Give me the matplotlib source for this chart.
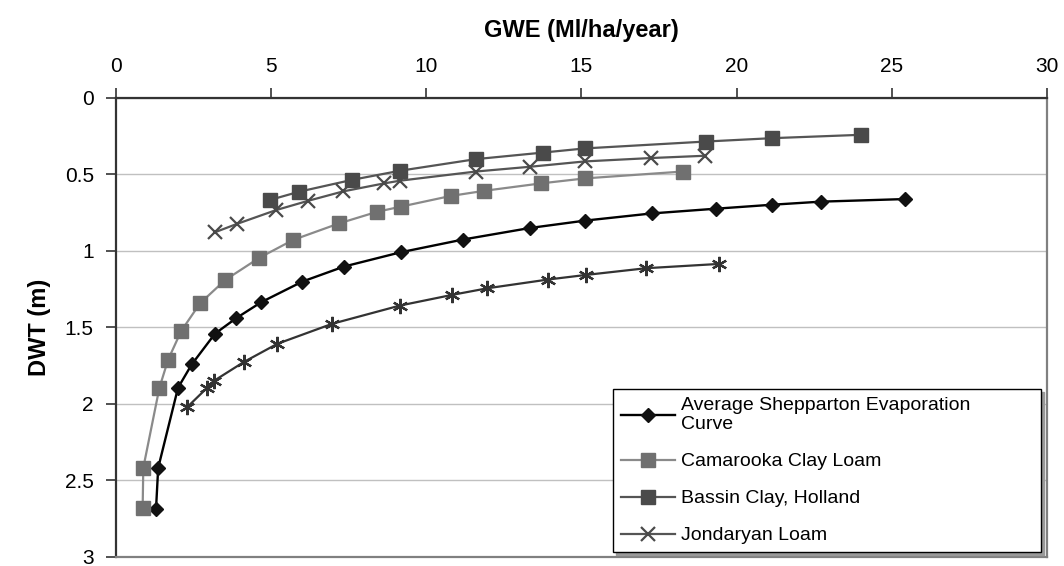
import numpy as np
import matplotlib
matplotlib.use('Agg')
import matplotlib.pyplot as plt

plt.rcParams['font.family'] = ['Liberation Sans', 'DejaVu Sans']

# values: GWE (Ml/ha/year) vs DWT (m)
avg_gwe = [1.29, 1.36, 2.00, 2.44, 3.19, 3.87, 4.68, 6.01, 7.35, 9.17, 11.17,
           13.34, 15.11, 17.26, 19.33, 21.15, 22.71, 25.43]
avg_dwt = [2.688, 2.418, 1.894, 1.742, 1.541, 1.44, 1.335, 1.2, 1.102, 1.009,
           0.926, 0.85, 0.802, 0.755, 0.724, 0.698, 0.678, 0.661]

cam_gwe = [0.86, 0.88, 1.40, 1.68, 2.10, 2.71, 3.52, 4.61, 5.71, 7.19, 8.42,
           9.17, 10.78, 11.87, 13.68, 15.11, 18.27]
cam_dwt = [2.677, 2.418, 1.894, 1.711, 1.524, 1.342, 1.19, 1.046, 0.928, 0.82,
           0.744, 0.711, 0.641, 0.607, 0.559, 0.526, 0.481]

bas_gwe = [4.96, 5.90, 7.62, 9.15, 11.60, 13.77, 15.11, 19.01, 21.15, 24.02]
bas_dwt = [0.667, 0.613, 0.535, 0.476, 0.40, 0.357, 0.33, 0.285, 0.263, 0.241]

jon_gwe = [3.19, 3.89, 5.16, 6.20, 7.32, 8.63, 9.15, 11.60, 13.34, 15.11,
           17.23, 18.98]
jon_dwt = [0.878, 0.824, 0.733, 0.672, 0.611, 0.559, 0.541, 0.481, 0.45,
           0.415, 0.393, 0.378]

# fifth series (asterisks) - not shown in the legend
ast_gwe = [2.30, 2.94, 3.15, 4.12, 5.20, 6.97, 9.15, 10.84, 11.97, 13.92,
           15.14, 17.08, 19.43]
ast_dwt = [2.02, 1.894, 1.85, 1.726, 1.607, 1.476, 1.357, 1.287, 1.244,
           1.187, 1.157, 1.113, 1.085]

fig = plt.figure(figsize=(10.64, 5.66), dpi=100)
ax = fig.add_axes([0.109, 0.016, 0.875, 0.811])

ax.plot(avg_gwe, avg_dwt, color='black', lw=1.7, marker='D', ms=7.5,
        mfc='#111111', mec='#111111', label='Average Shepparton Evaporation\nCurve')
ax.plot(cam_gwe, cam_dwt, color='#8a8a8a', lw=1.6, marker='s', ms=9.5,
        mfc='#707070', mec='#707070', label='Camarooka Clay Loam')
ax.plot(bas_gwe, bas_dwt, color='#555555', lw=1.6, marker='s', ms=9.5,
        mfc='#4a4a4a', mec='#4a4a4a', label='Bassin Clay, Holland')
ax.plot(jon_gwe, jon_dwt, color='#555555', lw=1.6, marker='x', ms=10,
        mew=1.6, mec='#4a4a4a', label='Jondaryan Loam')
ax.plot(ast_gwe, ast_dwt, color='#333333', lw=1.6, marker=(6, 2, 0), ms=11,
        mew=1.6, mec='#333333', label='_nolegend_')

ax.set_xlim(0, 30)
ax.set_ylim(3, 0)
ax.set_xticks(np.arange(0, 31, 5))
ax.set_yticks(np.arange(0, 3.01, 0.5))
ax.set_yticklabels(['0', '0.5', '1', '1.5', '2', '2.5', '3'])
ax.xaxis.tick_top()
ax.xaxis.set_label_position('top')
ax.tick_params(axis='both', direction='out', length=7, width=1.2,
               colors='#333333', labelcolor='black', labelsize=15, pad=9)
ax.grid(axis='y', color='#c0c0c0', lw=1)
ax.set_axisbelow(True)

ax.spines['left'].set_color('#333333')
ax.spines['top'].set_color('#333333')
ax.spines['right'].set_color('#808080')
ax.spines['bottom'].set_color('#808080')
for s in ax.spines.values():
    s.set_linewidth(1.6)

ax.set_xlabel('GWE (Ml/ha/year)', fontsize=17, fontweight='bold', labelpad=14)
ax.set_ylabel('DWT (m)', fontsize=17, fontweight='bold', labelpad=10)

leg = ax.legend(loc='upper left', bbox_to_anchor=(0.534, 0.366, 0.46, 0.0),
                mode='expand', borderaxespad=0, fontsize=14, handlelength=2.8,
                handletextpad=0.3, labelspacing=1.0, fancybox=False,
                framealpha=1, edgecolor='black',
                shadow={'color': '#999999', 'alpha': 1})
leg.get_frame().set_linewidth(1.0)

fig.savefig('out.png', dpi=100)
